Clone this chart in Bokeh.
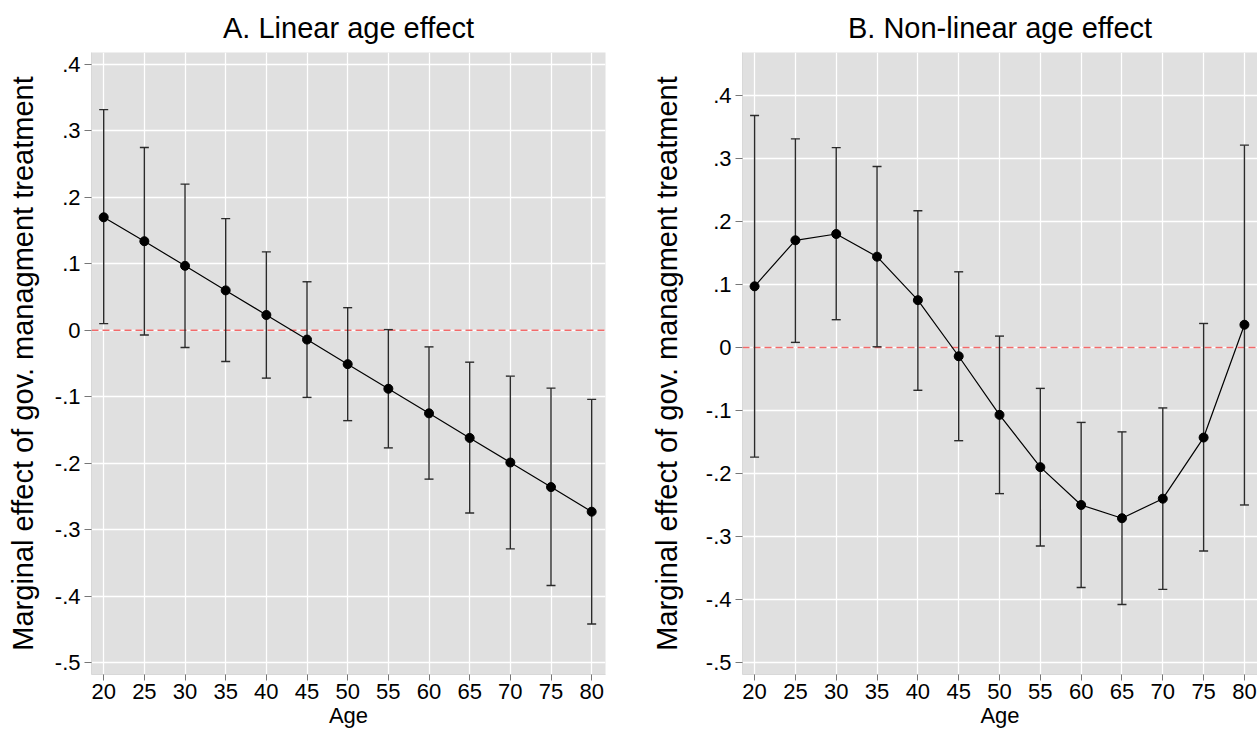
from bokeh.plotting import figure
from bokeh.layouts import row
from bokeh.models import ColumnDataSource, Whisker, TeeHead, Span, FixedTicker, Range1d
from bokeh.embed import file_html
from bokeh.resources import INLINE

ages = [20, 25, 30, 35, 40, 45, 50, 55, 60, 65, 70, 75, 80]

lin_est = [0.170, 0.134, 0.097, 0.060, 0.023, -0.014, -0.051, -0.088, -0.125, -0.162, -0.199, -0.236, -0.273]
lin_lo = [0.010, -0.007, -0.026, -0.047, -0.072, -0.101, -0.136, -0.177, -0.224, -0.275, -0.329, -0.384, -0.442]
lin_hi = [0.332, 0.275, 0.220, 0.168, 0.118, 0.073, 0.034, 0.001, -0.025, -0.048, -0.069, -0.087, -0.104]

nl_est = [0.097, 0.170, 0.180, 0.144, 0.075, -0.014, -0.107, -0.190, -0.250, -0.271, -0.240, -0.143, 0.036]
nl_lo = [-0.174, 0.008, 0.044, 0.001, -0.068, -0.148, -0.232, -0.315, -0.381, -0.408, -0.384, -0.323, -0.250]
nl_hi = [0.368, 0.331, 0.317, 0.287, 0.217, 0.120, 0.018, -0.065, -0.119, -0.134, -0.096, 0.038, 0.321]

y_ticks = [0.4, 0.3, 0.2, 0.1, 0.0, -0.1, -0.2, -0.3, -0.4, -0.5]
y_tick_labels = [".4", ".3", ".2", ".1", "0", "-.1", "-.2", "-.3", "-.4", "-.5"]
x_ticks = ages

titles = ["A. Linear age effect", "B. Non-linear age effect"]
y_title = "Marginal effect of gov. managment treatment"
x_title = "Age"

FONT = "Liberation Sans"


def make_panel(title, est, lo, hi, width, border_left, border_right, xr, yr, ylab_standoff):
    p = figure(width=width, height=731, output_backend="svg", toolbar_location=None,
               x_range=Range1d(*xr), y_range=Range1d(*yr),
               min_border_left=border_left, min_border_right=border_right,
               min_border_top=51, min_border_bottom=57)
    p.title.text = title
    p.title.align = "center"
    p.title.text_font = FONT
    p.title.text_font_size = "29px"
    p.title.text_font_style = "normal"
    p.title.text_color = "black"
    p.title.offset = 0
    p.title.standoff = 18

    p.background_fill_color = "#e0e0e0"
    p.border_fill_color = "white"
    p.outline_line_color = None

    for ax in (p.xaxis[0], p.yaxis[0]):
        ax.major_label_text_font = FONT
        ax.major_label_text_font_size = "22px"
        ax.major_label_text_color = "black"
        ax.axis_label_text_font = FONT
        ax.axis_label_text_font_style = "normal"
        ax.axis_label_text_color = "black"
        ax.axis_line_color = "#d8d8d8"
        ax.major_tick_line_color = "#777777"
        ax.major_tick_in = 0
        ax.major_tick_out = 7
        ax.minor_tick_line_color = None

    xa = p.xaxis[0]
    xa.ticker = FixedTicker(ticks=x_ticks)
    xa.axis_label = x_title
    xa.axis_label_text_font_size = "22px"
    xa.axis_label_standoff = 1
    xa.major_label_standoff = 3
    xa.major_tick_out = 6

    ya = p.yaxis[0]
    ya.ticker = FixedTicker(ticks=y_ticks)
    ya.major_label_overrides = {t: l for t, l in zip(y_ticks, y_tick_labels)}
    ya.axis_label = y_title
    ya.axis_label_text_font_size = "29px"
    ya.axis_label_standoff = ylab_standoff
    ya.major_label_standoff = 4

    p.xgrid.grid_line_color = "white"
    p.ygrid.grid_line_color = "white"
    p.xgrid.grid_line_width = 1.3
    p.ygrid.grid_line_width = 1.3

    p.add_layout(Span(location=0, dimension="width", line_color="#f26a6a",
                      line_dash="7 4", line_width=1.5, level="underlay"))

    src = ColumnDataSource(dict(age=ages, est=est, lo=lo, hi=hi))
    w = Whisker(source=src, base="age", upper="hi", lower="lo",
                line_color="#2b2b2b", line_width=1.4,
                upper_head=TeeHead(size=9, line_color="#2b2b2b", line_width=1.4),
                lower_head=TeeHead(size=9, line_color="#2b2b2b", line_width=1.4))
    p.add_layout(w)

    p.line("age", "est", source=src, line_color="black", line_width=1.2)
    p.scatter("age", "est", source=src, size=9, color="black")
    return p


p1 = make_panel(titles[0], lin_est, lin_lo, lin_hi, 631, 91, 26,
                (18.5, 81.7), (-0.518, 0.418), 13)
p2 = make_panel(titles[1], nl_est, nl_lo, nl_hi, 626, 111, 0,
                (18.52, 81.6), (-0.519, 0.468), 20)

layout = row(p1, p2)
open("out.html", "w").write(file_html(layout, INLINE))
